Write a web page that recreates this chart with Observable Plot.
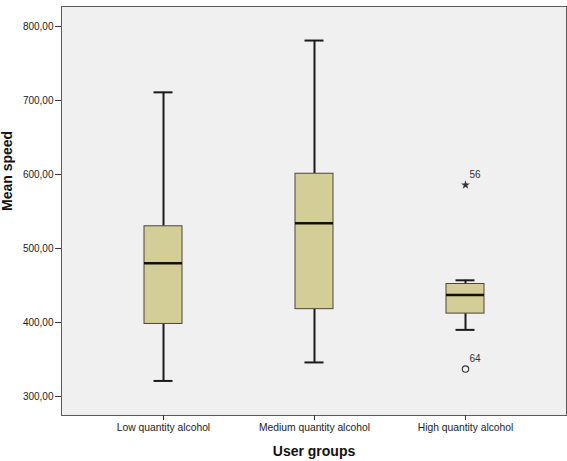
<!DOCTYPE html>
<html><head><meta charset="utf-8">
<script src="https://cdn.jsdelivr.net/npm/d3@7"></script>
<script src="https://cdn.jsdelivr.net/npm/@observablehq/plot@0.6"></script>
<style>
html,body{margin:0;padding:0;background:#fff;}
</style></head>
<body><div id="chart"></div>
<script>
const groups = ["Low quantity alcohol", "Medium quantity alcohol", "High quantity alcohol"];
const whiskerLow = [321, 346, 390];
const q1 = [398, 418, 412];
const median = [480, 534, 437];
const q3 = [530, 601, 452];
const whiskerHigh = [711, 781, 457];
const outlierGroup = ["High quantity alcohol", "High quantity alcohol"];
const outlierValue = [586, 337];
const outlierKind = ["extreme", "outlier"];
const outlierCase = ["56", "64"];
const yTicks = [300, 400, 500, 600, 700, 800];

const boxes = groups.map((g, i) => ({group: g, lo: whiskerLow[i], q1: q1[i], med: median[i], q3: q3[i], hi: whiskerHigh[i]}));
const outs = outlierValue.map((v, i) => ({group: outlierGroup[i], value: v, kind: outlierKind[i], label: outlierCase[i]}));

const font = "'Liberation Sans', Arial, sans-serif";
const chart = Plot.plot({
  width: 567, height: 461,
  marginLeft: 61, marginTop: 6, marginRight: 1, marginBottom: 46,
  style: {fontFamily: font, fontSize: "10px", background: "#fff", color: "#222"},
  x: {type: "band", domain: groups, paddingInner: 0.75, paddingOuter: 0.54},
  y: {domain: [274.3, 827]},
  marks: [
    Plot.frame({fill: "#f0f0f0", stroke: "#5a5a5a"}),
    Plot.axisY({ticks: yTicks, tickSize: 6, tickPadding: 2, tickFormat: d => d.toFixed(2).replace(".", ","), label: null, stroke: "#333", fontSize: 10}),
    Plot.axisX({tickSize: 5, tickPadding: 3, label: null, stroke: "#333", fontSize: 10.3}),
    Plot.ruleX(boxes, {x: "group", y1: "lo", y2: "q1", stroke: "#1a1a1a", strokeWidth: 2}),
    Plot.ruleX(boxes, {x: "group", y1: "q3", y2: "hi", stroke: "#1a1a1a", strokeWidth: 2}),
    Plot.tickY(boxes, {x: "group", y: "lo", stroke: "#1a1a1a", strokeWidth: 2, inset: 9.5}),
    Plot.tickY(boxes, {x: "group", y: "hi", stroke: "#1a1a1a", strokeWidth: 2, inset: 9.5}),
    Plot.barY(boxes, {x: "group", y1: "q1", y2: "q3", fill: "#d3ce97", stroke: "#4a4638", strokeWidth: 1}),
    Plot.tickY(boxes, {x: "group", y: "med", stroke: "#111", strokeWidth: 2.5}),
    Plot.dot(outs.filter(d => d.kind === "extreme"), {x: "group", y: "value", symbol: "star", r: 2.8, fill: "#333", stroke: "none"}),
    Plot.dot(outs.filter(d => d.kind === "outlier"), {x: "group", y: "value", symbol: "circle", r: 3.2, fill: "none", stroke: "#333", strokeWidth: 1.1}),
    Plot.text(outs, {x: "group", y: "value", text: "label", dx: 9.5, dy: -10, fontSize: 10, fill: "#333"}),
    Plot.text(["Mean speed"], {frameAnchor: "left", dx: -53.5, rotate: -90, fontSize: 14, fontWeight: "bold", fill: "#111", lineAnchor: "middle"}),
    Plot.text(["User groups"], {frameAnchor: "bottom", dy: 36, fontSize: 14, fontWeight: "bold", fill: "#111", lineAnchor: "middle"})
  ]
});
document.getElementById("chart").appendChild(chart);
</script></body></html>
